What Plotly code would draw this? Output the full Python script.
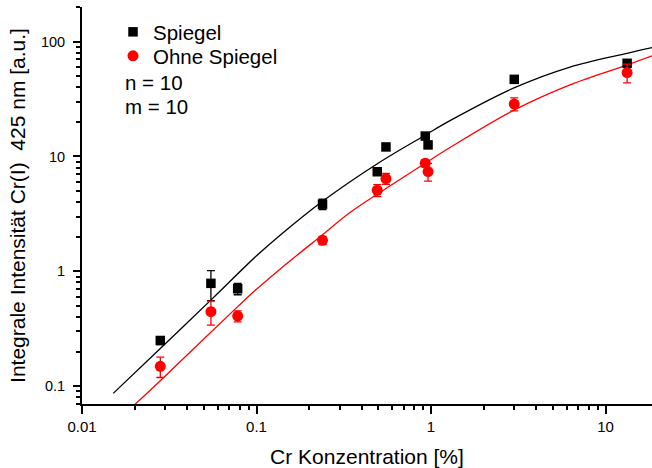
import plotly.graph_objects as go

# ---- data ----
conc = [0.0281, 0.0548, 0.078, 0.239, 0.492, 0.552, 0.927, 0.962, 3.0, 13.3]
spiegel = [0.25, 0.786, 0.705, 3.84, 7.36, 12.1, 15.05, 12.6, 46.9, 64.7]
spiegel_err = [0.02, 0.23, 0.08, 0.4, 0.3, 0.5, 0.8, 0.8, 2.0, 3.0]
ohne = [0.149, 0.445, 0.408, 1.86, 5.08, 6.42, 8.73, 7.39, 28.6, 53.7]
ohne_err = [0.03, 0.105, 0.045, 0.15, 0.6, 0.7, 0.6, 1.3, 3.7, 10.0]

fit_black_x = [0.0151, 0.0281, 0.0553, 0.0993, 0.136, 0.238, 0.49, 0.924, 1.285, 2.99, 6.26, 13.28, 18.48]
fit_black_y = [0.0866, 0.213, 0.57, 1.35, 2.05, 4.05, 8.6, 15.3, 20.5, 39.5, 60.0, 79.0, 88.5]
fit_red_x = [0.0201, 0.0281, 0.078, 0.098, 0.1364, 0.2392, 0.3434, 0.491, 0.927, 1.285, 2.99, 6.26, 13.28, 18.48]
fit_red_y = [0.0694, 0.1117, 0.4926, 0.68, 1.045, 2.084, 3.245, 4.68, 8.73, 11.95, 25.3, 42.0, 62.5, 75.1]

FONT = "Liberation Sans, Arial, sans-serif"
W, H = 652, 468
ML, MR, MT, MB = 82, 0, 7, 64
PW, PH = W - ML - MR, H - MT - MB


def px_x(p):
    return (p - ML) / PW


def px_y(p):
    return (H - MB - p) / PH


fig = go.Figure()
fig.add_trace(go.Scatter(x=fit_black_x, y=fit_black_y, mode="lines",
                         line=dict(color="black", width=1.3, shape="spline"),
                         showlegend=False, hoverinfo="skip"))
fig.add_trace(go.Scatter(x=fit_red_x, y=fit_red_y, mode="lines",
                         line=dict(color="#ff0000", width=1.3, shape="spline"),
                         showlegend=False, hoverinfo="skip"))
fig.add_trace(go.Scatter(x=conc, y=spiegel, mode="markers", name="Spiegel", legend="legend",
                         marker=dict(symbol="square", size=9.5, color="black"),
                         error_y=dict(type="data", array=spiegel_err, color="black",
                                      thickness=1.3, width=4)))
fig.add_trace(go.Scatter(x=conc, y=ohne, mode="markers", name="Ohne Spiegel", legend="legend2",
                         marker=dict(symbol="circle", size=11, color="#ff0000"),
                         error_y=dict(type="data", array=ohne_err, color="#ff0000",
                                      thickness=1.3, width=4)))

for txt, ypix in (("n = 10", 82), ("m = 10", 106)):
    fig.add_annotation(text=txt, xref="paper", yref="paper", x=px_x(123), y=px_y(ypix),
                       xanchor="left", yanchor="middle", showarrow=False,
                       font=dict(family=FONT, size=20.5, color="black"))

leg_common = dict(xanchor="left", yanchor="middle", bgcolor="rgba(0,0,0,0)",
                  font=dict(family=FONT, size=20.5, color="black"), borderwidth=0)

fig.update_layout(
    width=W, height=H,
    margin=dict(l=ML, r=MR, t=MT, b=MB),
    paper_bgcolor="white", plot_bgcolor="white",
    font=dict(family=FONT, color="black"),
    legend=dict(x=px_x(113), y=px_y(32), **leg_common),
    legend2=dict(x=px_x(113), y=px_y(56), **leg_common),
    xaxis=dict(type="log", range=[-2, 1.2665], automargin=False,
               tickmode="linear", tick0=0, dtick=1,
               ticks="outside", ticklen=8, tickwidth=1.5, tickcolor="black",
               showline=True, linecolor="black", linewidth=2, mirror=False,
               showgrid=False, zeroline=False,
               tickfont=dict(family=FONT, size=15),
               minor=dict(dtick="D1", ticks="outside", ticklen=4,
                          tickwidth=1.5, tickcolor="black", showgrid=False),
               title=dict(text="Cr Konzentration [%]", font=dict(family=FONT, size=21), standoff=15)),
    yaxis=dict(type="log", range=[-1.155, 2.301], automargin=False,
               tickmode="linear", tick0=0, dtick=1,
               ticks="outside", ticklen=7, tickwidth=1.5, tickcolor="black",
               showline=True, linecolor="black", linewidth=2, mirror=False,
               showgrid=False, zeroline=False, ticklabelstandoff=5,
               tickfont=dict(family=FONT, size=14.5),
               minor=dict(dtick="D1", ticks="outside", ticklen=4,
                          tickwidth=1.5, tickcolor="black", showgrid=False),
               title=dict(text="Integrale Intensität Cr(I)  425 nm [a.u.]",
                          font=dict(family=FONT, size=21), standoff=10)),
)

fig.write_html("out.html", config={"displayModeBar": False},
               post_script="document.body.style.margin='0px';")
